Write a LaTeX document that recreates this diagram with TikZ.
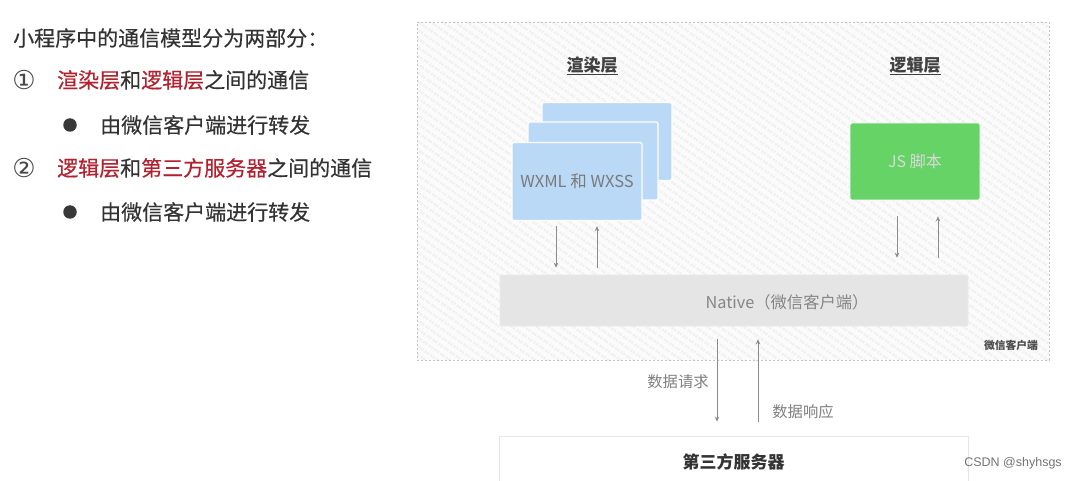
\documentclass[tikz,border=0pt]{standalone}
\usepackage{fontspec}
\setmainfont{Noto Sans CJK SC}
\newfontfamily\leftfont{Noto Sans CJK SC}[FakeBold=0.4]
\newfontfamily\circfont{DejaVu Sans}
\newfontfamily\wmfont{Liberation Sans}
\usetikzlibrary{arrows.meta,patterns.meta}
\definecolor{txt}{HTML}{333333}
\definecolor{hl}{HTML}{B3202E}
\definecolor{bluecard}{HTML}{BAD9F7}
\definecolor{greencard}{HTML}{66D366}
\definecolor{nativebg}{HTML}{E5E5E5}
\definecolor{arrowgray}{HTML}{8C8C8C}
\definecolor{dashgray}{HTML}{C4C4C4}
\definecolor{clientbg}{HTML}{FBFBFB}
\definecolor{hatch}{HTML}{F0F0F0}
\tikzset{
  lefttext/.style={anchor=west, inner sep=0pt, text=txt, font=\leftfont\fontsize{21}{24}\selectfont},
  circnum/.style={inner sep=0pt, text=black!72, font=\circfont\fontsize{26}{28}\selectfont},
  bulletmark/.style={circle, fill=black!78, minimum size=13.5pt, inner sep=0pt},
  card/.style={rectangle, rounded corners=1.5pt, fill=bluecard, draw=white, line width=1.2pt,
    minimum width=130pt, minimum height=78pt, inner sep=0pt},
  jsbox/.style={rectangle, rounded corners=1.5pt, fill=greencard, draw=white, line width=0.8pt,
    minimum width=130pt, minimum height=77pt, inner sep=0pt},
  title/.style={inner sep=0pt, text=black!75, font=\fontsize{17}{19}\selectfont\bfseries},
  cardtext/.style={inner sep=0pt, font=\fontsize{16.5}{18}\selectfont},
  arr/.style={draw=arrowgray, line width=0.9pt, -{Stealth[length=5pt,width=4.5pt]}},
  lbl/.style={inner sep=0pt, text=black!50, font=\fontsize{15.3}{17}\selectfont},
}
\begin{document}
\begin{tikzpicture}[x=1pt,y=-1pt]
\useasboundingbox (0,0) rectangle (1074,481);
\clip (0,0) rectangle (1074,481);
\fill[white] (0,0) rectangle (1074,481);

% left text
\node[lefttext] (t0) at (13,38) {小程序中的通信模型分为两部分：};
\node[circnum] (n1) at (24,80) {①};
\node[lefttext] (t1) at (57,80) {\textcolor{hl}{渲染层}和\textcolor{hl}{逻辑层}之间的通信};
\node[bulletmark] (b1) at (70,125) {};
\node[lefttext] (t2) at (100,125) {由微信客户端进行转发};
\node[circnum] (n2) at (24,168) {②};
\node[lefttext] (t3) at (57,168) {\textcolor{hl}{逻辑层}和\textcolor{hl}{第三方服务器}之间的通信};
\node[bulletmark] (b2) at (70,212) {};
\node[lefttext] (t4) at (100,212) {由微信客户端进行转发};

% client frame
\node[minimum width=632pt, minimum height=338pt, inner sep=0pt,
      preaction={fill=clientbg},
      pattern={Lines[angle=-35,distance=7pt,line width=2.5pt]}, pattern color=hatch,
      draw=dashgray, line width=0.8pt, dash pattern=on 2pt off 2pt] (client) at (733,191) {};
\node[inner sep=0pt, text=black!70, font=\fontsize{10.8}{12}\selectfont\bfseries] (clientlbl) at (1011,345) {微信客户端};

% titles
\node[title] (r) at (592,66) {\underline{渲染层}};
\node[title] (l) at (915,66) {\underline{逻辑层}};

% cards
\node[card] (back) at (607,141.5) {};
\node[card] (mid) at (593,161) {};
\node[card] (front) at (577,181.5) {};
\node[cardtext, text=black!52] (ftext) at (front.center) {WXML 和 WXSS};
\node[jsbox] (js) at (915,161.5) {};
\node[cardtext, font=\fontsize{16}{18}\selectfont, text=white!85!black] (jstext) at (js.center) {JS 脚本};

% native
\node[rectangle, fill=nativebg, draw=black!8, line width=0.6pt, rounded corners=1pt,
      minimum width=468pt, minimum height=51pt, inner sep=0pt] (native) at (734,300.5) {};
\node[inner sep=0pt, text=black!48, font=\fontsize{16.3}{18}\selectfont] (ntext) at (787,302) {Native（微信客户端）};

% server
\node[rectangle, fill=white, draw=black!10, line width=0.8pt,
      minimum width=469pt, minimum height=52pt, inner sep=0pt] (server) at (733.5,462) {};
\node[inner sep=0pt, text=txt, font=\fontsize{17}{19}\selectfont\bfseries] (stext) at (server.center) {第三方服务器};

% arrow columns
\coordinate (c1) at (556,0);
\coordinate (c2) at (597,0);
\coordinate (c3) at (897,0);
\coordinate (c4) at (938,0);
\coordinate (c5) at (717,0);
\coordinate (c6) at (758,0);

\draw[arr, shorten <=5pt, shorten >=7pt] (front.south -| c1) -- (native.north -| c1);
\draw[arr, shorten <=7pt, shorten >=5pt] (native.north -| c2) -- (front.south -| c2);
\draw[arr, shorten <=16pt, shorten >=17pt] (js.south -| c3) -- (native.north -| c3);
\draw[arr, shorten <=17pt, shorten >=16pt] (native.north -| c4) -- (js.south -| c4);
\draw[arr, shorten <=13pt, shorten >=14pt] (native.south -| c5) -- (server.north -| c5);
\draw[arr, shorten <=14pt, shorten >=13pt] (server.north -| c6) -- (native.south -| c6);

\node[lbl] (req) at (678,382) {数据请求};
\node[lbl] (resp) at (803,412) {数据响应};

% watermark
\node[inner sep=0pt, text=black!55, font=\wmfont\fontsize{12.5}{14}\selectfont] (wm) at (1013,463) {CSDN @shyhsgs};
\end{tikzpicture}
\end{document}
